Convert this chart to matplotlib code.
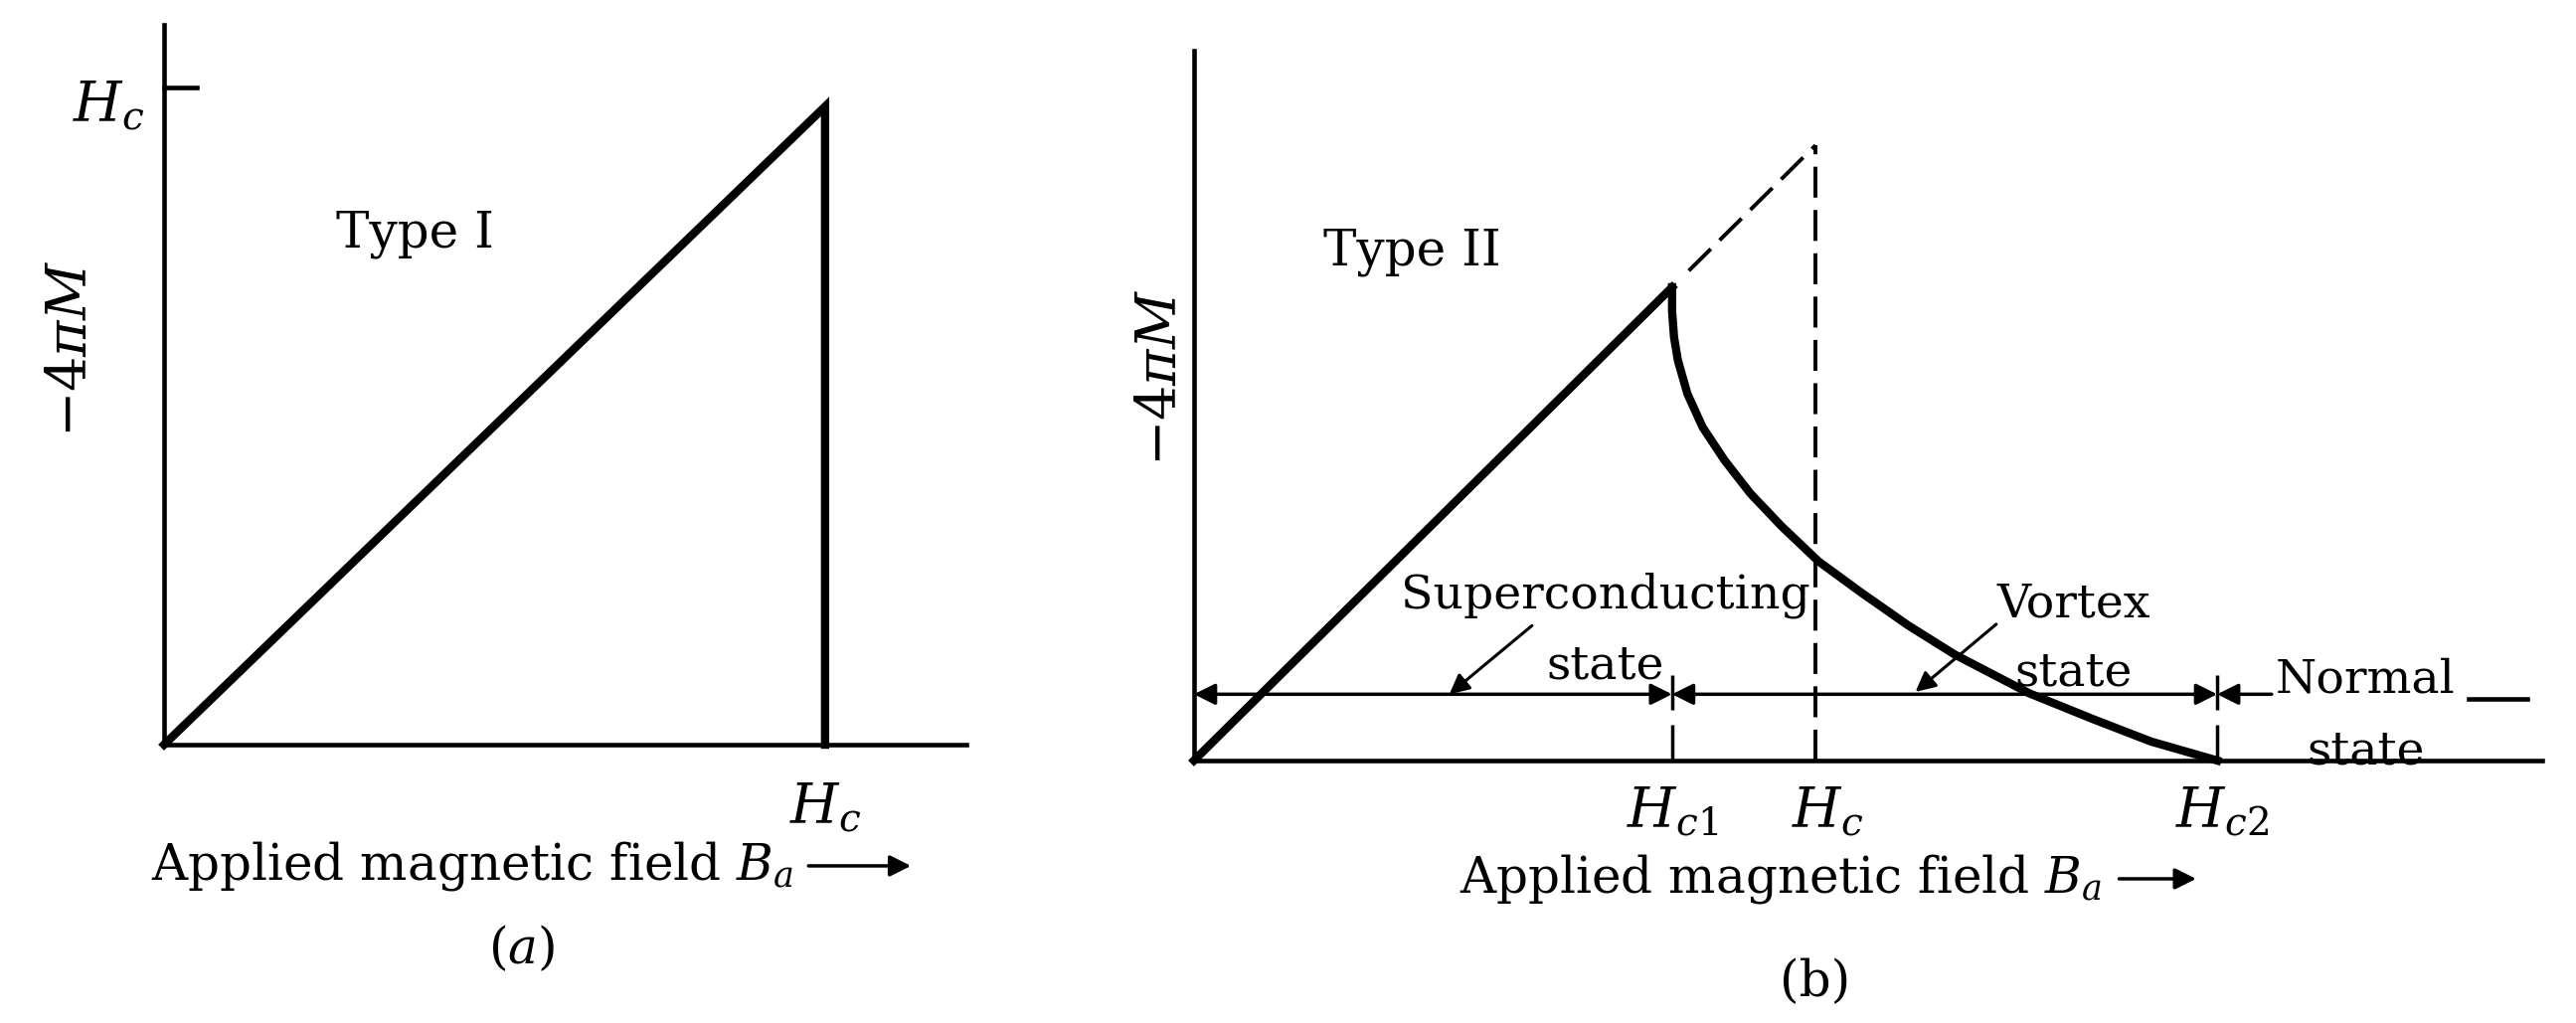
from matplotlib import pyplot as plt

# (a) Type I: -4piM vs applied field, field in units of Hc
type1_field = [0.0, 1.0, 1.0]
type1_magn = [0.0, 1.0, 0.0]
type1_hc_tick = 1.03

# (b) Type II: field in units of Hc1
hc1 = 1.0
hc = 1.30
hc2 = 2.14
type2_lin_field = [0.0, hc1]
type2_lin_magn = [0.0, 1.0]
type2_curve_field = [1.0, 1.0, 1.004, 1.012, 1.032, 1.064, 1.110, 1.164, 1.229, 1.306, 1.394,
                     1.493, 1.591, 1.747, 1.879, 2.002, 2.14]
type2_curve_magn = [1.0, 0.95, 0.895, 0.846, 0.775, 0.704, 0.634, 0.564, 0.495, 0.421, 0.356,
                    0.286, 0.224, 0.142, 0.088, 0.040, 0.0]
state_line_y = 0.14
normal_arrow_start = 2.254

plt.rcParams['font.family'] = 'DejaVu Serif'
plt.rcParams['mathtext.fontset'] = 'dejavuserif'
fs = 36        # main labels
fs_state = 34  # state labels in (b)
fs_h = 40      # H_c labels
heavy = 6
thin = 3.3

fig = plt.figure(figsize=(25.91, 10.29), dpi=100)
ax1 = fig.add_axes([0.0637, 0.2721, 0.3115, 0.7036])
ax2 = fig.add_axes([0.4635, 0.2566, 0.5234, 0.6939])
for ax in (ax1, ax2):
    ax.spines[['top', 'right']].set_visible(False)
    ax.spines[['left', 'bottom']].set_linewidth(thin)
    ax.set_xticks([])
    ax.set_yticks([])
    ax.patch.set_visible(False)

ax1.set_xlim(0, 1.214)
ax1.set_ylim(0, 1.128)
ax2.set_xlim(0, 2.82)
ax2.set_ylim(0, 1.50)

# ---- panel (a)
ax1.plot(type1_field, type1_magn, color='k', lw=heavy, solid_joinstyle='miter', clip_on=False)
ax1.plot([0, 0.05], [type1_hc_tick, type1_hc_tick], color='k', lw=thin, clip_on=False)
ax1.text(-0.03, 1.0, r'$H_c$', ha='right', va='center', fontsize=fs_h)
ax1.text(0.38, 0.80, 'Type I', ha='center', va='center', fontsize=fs)
ax1.text(-0.14, 0.62, r'$-4\pi M$', rotation=90, ha='center', va='center', fontsize=fs_h)
ax1.text(1.0, -0.10, r'$H_c$', ha='center', va='center', fontsize=fs_h)
ax1.text(0.466, -0.19, r'Applied magnetic field $B_a$', ha='center', va='center', fontsize=fs)
ax1.annotate('', xy=(1.13, -0.19), xytext=(0.975, -0.19), annotation_clip=False,
             arrowprops=dict(arrowstyle='-|>', lw=2.5, color='k', mutation_scale=32,
                             shrinkA=0, shrinkB=0))
ax1.text(0.54, -0.32, r'$(a)$', ha='center', va='center', fontsize=fs)

# ---- panel (b)
ax2.plot(type2_lin_field, type2_lin_magn, color='k', lw=heavy, clip_on=False)
ax2.plot(type2_curve_field, type2_curve_magn, color='k', lw=heavy, clip_on=False,
         solid_joinstyle='round')
ax2.plot([1.035, hc], [1.035, hc], color='k', lw=2.8, dashes=(8, 3.2))
ax2.plot([hc, hc], [0, hc], color='k', lw=2.8, dashes=(8, 3.2))
ax2.vlines([hc1, hc2], 0, 0.075, color='k', lw=2.5)
ax2.vlines([hc1, hc2], 0.107, 0.18, color='k', lw=2.5)

arrow_kw = dict(lw=2.5, color='k', mutation_scale=32, shrinkA=0, shrinkB=0)
ax2.annotate('', xy=(0, state_line_y), xytext=(hc1, state_line_y),
             arrowprops=dict(arrowstyle='<|-|>', **arrow_kw))
ax2.annotate('', xy=(hc1, state_line_y), xytext=(hc2, state_line_y),
             arrowprops=dict(arrowstyle='<|-|>', **arrow_kw))
ax2.annotate('', xy=(hc2, state_line_y), xytext=(normal_arrow_start, state_line_y),
             arrowprops=dict(arrowstyle='-|>', **arrow_kw))
ax2.annotate('', xy=(0.534, 0.14), xytext=(0.707, 0.285),
             arrowprops=dict(arrowstyle='-|>', lw=2.2, color='k', mutation_scale=30,
                             shrinkA=0, shrinkB=0))
ax2.annotate('', xy=(1.509, 0.145), xytext=(1.678, 0.288),
             arrowprops=dict(arrowstyle='-|>', lw=2.2, color='k', mutation_scale=30,
                             shrinkA=0, shrinkB=0))
ax2.plot([2.665, 2.788], [0.13, 0.13], color='k', lw=thin, clip_on=False)

ax2.text(-0.069, 0.81, r'$-4\pi M$', rotation=90, ha='center', va='center', fontsize=fs_h)
ax2.text(0.457, 1.075, 'Type II', ha='center', va='center', fontsize=fs)
ax2.text(0.86, 0.35, 'Superconducting', ha='center', va='center', fontsize=fs_state)
ax2.text(0.86, 0.20, 'state', ha='center', va='center', fontsize=fs_state)
ax2.text(1.84, 0.33, 'Vortex', ha='center', va='center', fontsize=fs_state)
ax2.text(1.84, 0.185, 'state', ha='center', va='center', fontsize=fs_state)
ax2.text(2.45, 0.17, 'Normal', ha='center', va='center', fontsize=fs_state)
ax2.text(2.45, 0.02, 'state', ha='center', va='center', fontsize=fs_state)
ax2.text(hc1, -0.11, r'$H_{c1}$', ha='center', va='center', fontsize=fs_h)
ax2.text(hc + 0.026, -0.11, r'$H_c$', ha='center', va='center', fontsize=fs_h)
ax2.text(hc2 + 0.01, -0.11, r'$H_{c2}$', ha='center', va='center', fontsize=fs_h)
ax2.text(1.227, -0.25, r'Applied magnetic field $B_a$', ha='center', va='center', fontsize=fs)
ax2.annotate('', xy=(2.096, -0.25), xytext=(1.935, -0.25), annotation_clip=False,
             arrowprops=dict(arrowstyle='-|>', lw=2.5, color='k', mutation_scale=32,
                             shrinkA=0, shrinkB=0))
ax2.text(hc, -0.47, '(b)', ha='center', va='center', fontsize=fs)

fig.savefig('out.png', dpi=100)
